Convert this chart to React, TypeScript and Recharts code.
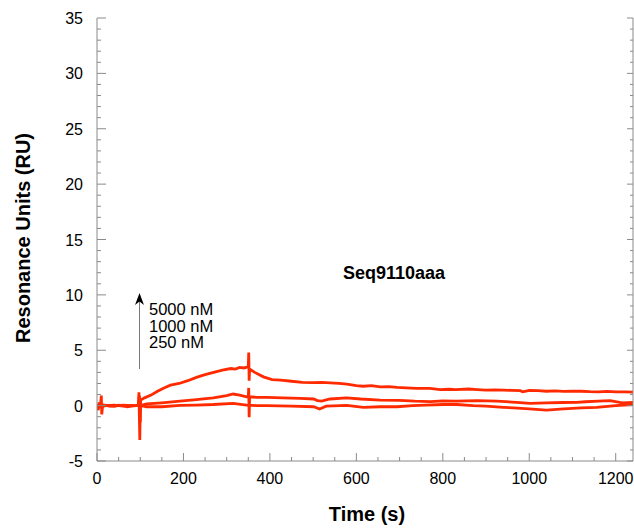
import React from 'react';
import { LineChart, Line, XAxis, YAxis } from 'recharts';

// Time (s) and response (RU) per concentration
const t5000 = [0, 3, 5, 8, 10, 11, 13, 20, 30, 40, 50, 60, 70, 80, 90, 95, 98, 100, 101, 110, 125, 140, 155, 170, 190, 210, 230, 250, 270, 290, 310, 320, 330, 340, 345, 350, 351, 352, 353, 365, 385, 405, 425, 450, 475, 500, 520, 540, 560, 578, 600, 616, 635, 655, 675, 694, 715, 740, 770, 794, 815, 830, 860, 880, 900, 920, 940, 960, 979, 985, 1000, 1020, 1040, 1060, 1079, 1100, 1120, 1140, 1160, 1180, 1200, 1220, 1240];
const v5000 = [0, -0.4, 0.3, 0, 0.9, -0.8, 0, 0.05, -0.05, -0.05, 0.05, 0, -0.1, -0.05, 0, 0, 0.9, -1.5, 0.5, 0.7, 0.95, 1.3, 1.6, 1.85, 2.0, 2.25, 2.55, 2.8, 3.0, 3.2, 3.35, 3.3, 3.45, 3.4, 3.45, 3.5, 4.8, 2.25, 3.3, 3.0, 2.6, 2.35, 2.3, 2.2, 2.1, 2.07, 2.1, 2.05, 2.0, 1.95, 1.8, 1.75, 1.8, 1.7, 1.72, 1.65, 1.6, 1.55, 1.55, 1.45, 1.48, 1.45, 1.5, 1.45, 1.4, 1.42, 1.4, 1.38, 1.35, 1.25, 1.38, 1.35, 1.3, 1.33, 1.28, 1.3, 1.3, 1.26, 1.25, 1.28, 1.25, 1.24, 1.22];

const t1000 = [0, 10, 20, 40, 60, 80, 97, 100, 115, 150, 192, 230, 269, 300, 315, 330, 346, 350, 351, 352, 353, 370, 393, 430, 470, 501, 510, 520, 539, 578, 610, 655, 700, 735, 771, 800, 830, 880, 925, 970, 1002, 1040, 1079, 1110, 1130, 1160, 1187, 1215, 1240];
const v1000 = [0, 0.1, 0, -0.05, 0.05, 0, 0, 0, 0.15, 0.25, 0.4, 0.55, 0.7, 0.9, 1.05, 0.95, 0.8, 0.8, 1.6, -1.05, 0.8, 0.75, 0.75, 0.7, 0.65, 0.6, 0.45, 0.4, 0.6, 0.7, 0.6, 0.5, 0.48, 0.4, 0.36, 0.42, 0.4, 0.45, 0.4, 0.3, 0.2, 0.25, 0.28, 0.3, 0.35, 0.4, 0.45, 0.25, 0.3];

const t250 = [0, 10, 20, 40, 60, 80, 96, 97, 99, 100, 102, 115, 150, 192, 230, 269, 315, 346, 370, 393, 450, 501, 515, 530, 578, 616, 655, 694, 730, 760, 800, 833, 870, 900, 940, 963, 1000, 1040, 1080, 1120, 1156, 1200, 1240];
const v250 = [0, -0.1, 0, 0.05, -0.05, 0, 0, 1.2, -3.1, -0.3, 0, -0.1, -0.1, 0.03, 0.05, 0.1, 0.2, 0.05, 0, 0, -0.05, -0.1, -0.3, -0.05, 0.03, -0.15, -0.1, -0.1, 0, 0.05, 0.1, 0.1, 0, -0.05, -0.15, -0.2, -0.3, -0.4, -0.3, -0.2, -0.15, 0, 0.1];

const xTicks = [0, 50, 100, 150, 200, 250, 300, 350, 400, 450, 500, 550, 600, 650, 700, 750, 800, 850, 900, 950, 1000, 1050, 1100, 1150, 1200];
const xLabels = [0, 200, 400, 600, 800, 1000, 1200];
const yTicks = [-5, -4, -3, -2, -1, 0, 1, 2, 3, 4, 5, 6, 7, 8, 9, 10, 11, 12, 13, 14, 15, 16, 17, 18, 19, 20, 21, 22, 23, 24, 25, 26, 27, 28, 29, 30, 31, 32, 33, 34, 35];
const yLabels = [-5, 0, 5, 10, 15, 20, 25, 30, 35];
const concLabels = ['5000 nM', '1000 nM', '250 nM'];

const toRows = (ts: number[], vs: number[]) => ts.map((t, i) => ({ t, v: vs[i] }));
const d5000 = toRows(t5000, v5000);
const d1000 = toRows(t1000, v1000);
const d250 = toRows(t250, v250);

const FONT = '"Liberation Sans", Arial, Helvetica, sans-serif';
const AX = '#8a8a8a';
const RED = '#ff2a00';

const BottomTick = (p: any) => {
  const { x, y, payload } = p;
  const major = xLabels.includes(payload.value);
  return (
    <g>
      <line x1={x} x2={x} y1={y} y2={y - (major ? 8 : 4)} stroke={AX} />
      {major && (
        <text x={x} y={y + 23} textAnchor="middle" fontSize={16} fill="#000" fontFamily={FONT}>
          {payload.value}
        </text>
      )}
    </g>
  );
};
const TopTick = (p: any) => {
  const { x, y, payload } = p;
  const major = xLabels.includes(payload.value);
  return <line x1={x} x2={x} y1={y} y2={y + (major ? 8 : 4)} stroke={AX} />;
};
const LeftTick = (p: any) => {
  const { x, y, payload } = p;
  const major = yLabels.includes(payload.value);
  return (
    <g>
      <line x1={x} x2={x + (major ? 9 : 4)} y1={y} y2={y} stroke={AX} />
      {major && (
        <text x={x - 14} y={y + 6} textAnchor="end" fontSize={16} fill="#000" fontFamily={FONT}>
          {payload.value}
        </text>
      )}
    </g>
  );
};
const RightTick = (p: any) => {
  const { x, y, payload } = p;
  const major = yLabels.includes(payload.value);
  return <line x1={x} x2={x - (major ? 6 : 3)} y1={y} y2={y} stroke={AX} />;
};

export default function App() {
  return (
    <div style={{ position: 'absolute', left: 0, top: 0, width: 634, height: 530, background: '#fff' }}>
      <LineChart width={634} height={530} margin={{ top: 18, right: 0, bottom: 0, left: 0 }}>
        <XAxis xAxisId="b" type="number" dataKey="t" domain={[0, 1240]} ticks={xTicks} interval={0}
          tickSize={0} tickMargin={0} height={69} axisLine={{ stroke: AX }} tick={<BottomTick />} allowDataOverflow />
        <XAxis xAxisId="t" orientation="top" type="number" dataKey="t" domain={[0, 1240]} ticks={xTicks} interval={0}
          tickSize={0} tickMargin={0} height={0} axisLine={{ stroke: AX }} tick={<TopTick />} allowDataOverflow />
        <YAxis yAxisId="l" type="number" domain={[-5, 35]} ticks={yTicks} interval={0}
          tickSize={0} tickMargin={0} width={97} axisLine={{ stroke: AX }} tick={<LeftTick />} allowDataOverflow />
        <YAxis yAxisId="r" orientation="right" type="number" domain={[-5, 35]} ticks={yTicks} interval={0}
          tickSize={0} tickMargin={0} width={1} axisLine={{ stroke: AX }} tick={<RightTick />} allowDataOverflow />
        <Line xAxisId="b" yAxisId="l" data={d250} dataKey="v" type="linear" stroke={RED} strokeWidth={2.8} dot={false} isAnimationActive={false} />
        <Line xAxisId="b" yAxisId="l" data={d1000} dataKey="v" type="linear" stroke={RED} strokeWidth={2.8} dot={false} isAnimationActive={false} />
        <Line xAxisId="b" yAxisId="l" data={d5000} dataKey="v" type="linear" stroke={RED} strokeWidth={2.8} dot={false} isAnimationActive={false} />
      </LineChart>
      <svg width={634} height={530} style={{ position: 'absolute', left: 0, top: 0, pointerEvents: 'none' }}>
        <text x={367} y={521} textAnchor="middle" fontSize={20} fontWeight="bold" fontFamily={FONT} fill="#000">Time (s)</text>
        <text x={30} y={238} transform="rotate(-90 30 238)" textAnchor="middle" fontSize={20} fontWeight="bold" fontFamily={FONT} fill="#000">Resonance Units (RU)</text>
        <text x={343} y={279} fontSize={18} fontWeight="bold" fontFamily={FONT} fill="#000">Seq9110aaa</text>
        <line x1={139.5} x2={139.5} y1={369} y2={300} stroke="#777" strokeWidth={1} />
        <polygon points="139.5,293 144,305 139.5,301.5 135,305" fill="#000" />
        {concLabels.map((s, i) => (
          <text key={s} x={149} y={315 + i * 16.5} fontSize={16.5} fontFamily={FONT} fill="#000">{s}</text>
        ))}
      </svg>
    </div>
  );
}
